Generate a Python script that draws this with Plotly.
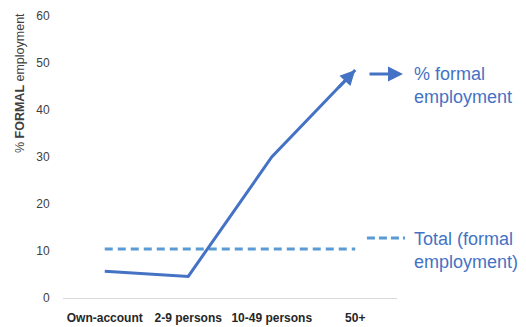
import plotly.graph_objects as go

categories = ["Own-account", "2-9 persons", "10-49 persons", "50+"]
formal_pct = [5.7, 4.6, 30.0, 48.5]
total_formal = [10.4, 10.4, 10.4, 10.4]
y_ticks = [0, 10, 20, 30, 40, 50, 60]

SOLID = "#4472C4"
DASH = "#5B9BD5"
FONT = "Liberation Sans"

fig = go.Figure()
fig.add_trace(go.Scatter(x=categories, y=total_formal, mode="lines",
                         line=dict(color=DASH, width=3, dash="8px,5px"),
                         showlegend=False, hoverinfo="skip"))
fig.add_trace(go.Scatter(x=categories, y=formal_pct, mode="lines",
                         line=dict(color=SOLID, width=3),
                         showlegend=False, hoverinfo="skip"))

# arrowhead at the last point of the formal series
fig.add_annotation(x=categories[-1], y=formal_pct[-1], xref="x", yref="y",
                   ax=-18, ay=19, showarrow=True, arrowhead=2, arrowsize=1,
                   arrowwidth=3, arrowcolor=SOLID, text="", standoff=0)

# custom legend
fig.add_annotation(x=1.018, y=0.794, xref="paper", yref="paper",
                   ax=-35, ay=0, showarrow=True, arrowhead=2, arrowsize=1,
                   arrowwidth=3, arrowcolor=SOLID, text="", standoff=0)
fig.add_annotation(x=1.045, y=0.755, xref="paper", yref="paper",
                   xanchor="left", yanchor="middle", align="left", showarrow=False,
                   text="% formal<br>employment",
                   font=dict(family=FONT, size=18, color=SOLID))
fig.add_shape(type="line", xref="paper", yref="paper",
              x0=0.910, x1=1.024, y0=0.213, y1=0.213,
              line=dict(color=DASH, width=3, dash="8px,4px"))
fig.add_annotation(x=1.045, y=0.168, xref="paper", yref="paper",
                   xanchor="left", yanchor="middle", align="left", showarrow=False,
                   text="Total (formal<br>employment)",
                   font=dict(family=FONT, size=18, color=SOLID))

# y axis title
fig.add_annotation(x=-0.129, y=0.762, xref="paper", yref="paper",
                   xanchor="center", yanchor="middle",
                   textangle=-90, showarrow=False,
                   text="% <b>FORMAL</b> employment",
                   font=dict(family=FONT, size=12.5, color="#404040"))

fig.update_layout(
    width=526, height=327,
    margin=dict(l=63, r=129, t=16, b=29),
    paper_bgcolor="white", plot_bgcolor="white",
    font=dict(family=FONT),
)
fig.update_xaxes(type="category", range=[-0.5, 3.5], showgrid=False,
                 zeroline=False, automargin=False,
                 showline=False, ticks="outside", ticklen=9,
                 tickcolor="rgba(0,0,0,0)",
                 tickfont=dict(family=FONT, size=12, color="#262626", weight="bold"))
fig.update_yaxes(range=[0, 60], tickvals=y_ticks, showgrid=False,
                 zeroline=True, zerolinecolor="#D9D9D9", zerolinewidth=1,
                 showline=False, automargin=False, ticks="outside", ticklen=10,
                 tickcolor="rgba(0,0,0,0)",
                 tickfont=dict(family=FONT, size=12, color="#404040"))

fig.write_html("out.html")
